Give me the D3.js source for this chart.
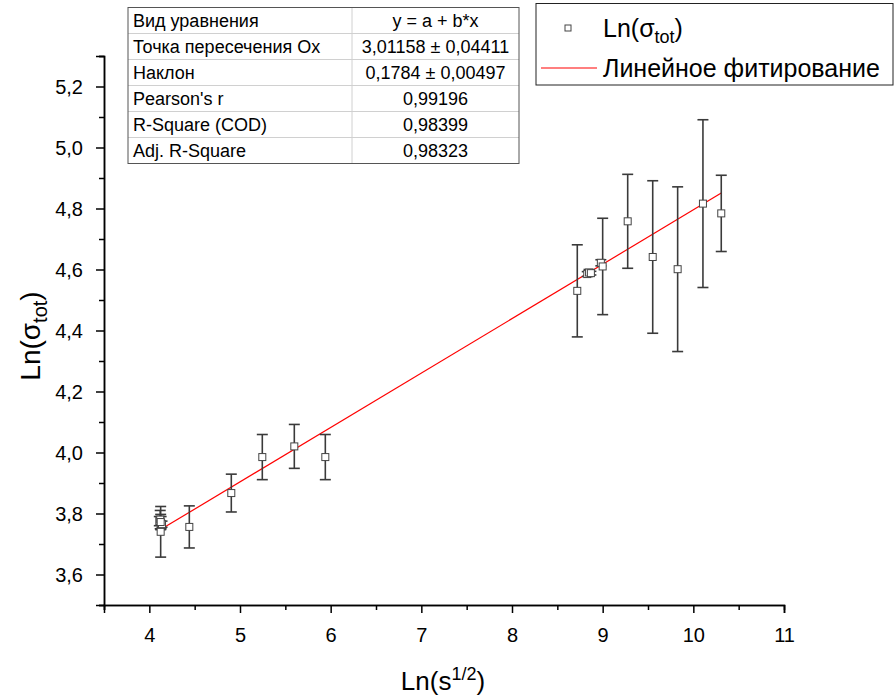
<!DOCTYPE html>
<html>
<head>
<meta charset="utf-8">
<script src="https://cdn.jsdelivr.net/npm/d3@7"></script>
<style>
  body { margin: 0; background: #fff; }
  text { font-family: "Liberation Sans", Arial, sans-serif; }
</style>
</head>
<body>
<div id="chart"></div>
<script>
// data
const xVals = [4.125, 4.11, 4.12, 4.13, 4.14, 4.125, 4.441, 4.904, 5.246, 5.599, 5.941,
               8.720, 8.83, 8.85, 8.87, 8.98, 9.0, 9.276, 9.552, 9.827, 10.106, 10.308];
const yVals = [3.740, 3.775, 3.780, 3.770, 3.765, 3.772, 3.756, 3.867, 3.985, 4.020, 3.985,
               4.530, 4.585, 4.590, 4.588, 4.622, 4.610, 4.758, 4.641, 4.601, 4.816, 4.784];
const yErr  = [0.083, 0.015, 0.030, 0.020, 0.010, 0.025, 0.069, 0.062, 0.074, 0.072, 0.074,
               0.151, 0.008, 0.010, 0.006, 0.010, 0.158, 0.154, 0.250, 0.270, 0.275, 0.125];

const fitA = 3.01158, fitB = 0.1784;

const tableLabels = ["Вид уравнения", "Точка пересечения Ox", "Наклон", "Pearson's r", "R-Square (COD)", "Adj. R-Square"];
const tableValues = ["y = a + b*x", "3,01158 ± 0,04411", "0,1784 ± 0,00497", "0,99196", "0,98399", "0,98323"];

const xTicks = [4, 5, 6, 7, 8, 9, 10, 11];
const yTicks = [3.6, 3.8, 4.0, 4.2, 4.4, 4.6, 4.8, 5.0, 5.2];

const width = 896, height = 696;
const svg = d3.select("#chart").append("svg")
              .attr("width", width)
              .attr("height", height);

const x = d3.scaleLinear().domain([3.5, 11]).range([104, 784]);
const y = d3.scaleLinear().domain([3.5, 5.3]).range([605, 56]);

const ru = d3.formatLocale({decimal: ",", thousands: " ", grouping: [3], currency: ["", ""]});
const fmtY = ru.format(".1f");

// axes
let xAxis = d3.axisBottom(x).tickValues(xTicks).tickSize(8).tickFormat(d3.format("d"));
let xMinor = d3.axisBottom(x).tickValues(d3.range(3.5, 11.01, 1)).tickSize(5).tickFormat("");
let yAxis = d3.axisLeft(y).tickValues(yTicks).tickSize(8).tickFormat(fmtY);
let yMinor = d3.axisLeft(y).tickValues(d3.range(3.5, 5.31, 0.2)).tickSize(5).tickFormat("");

const gx = svg.append("g").attr("transform", `translate(0,${y(3.5)})`).call(xAxis);
svg.append("g").attr("transform", `translate(0,${y(3.5)})`).call(xMinor);
const gy = svg.append("g").attr("transform", `translate(${x(3.5)},0)`).call(yAxis);
svg.append("g").attr("transform", `translate(${x(3.5)},0)`).call(yMinor);

svg.selectAll(".domain").attr("stroke", "#000").attr("stroke-width", 1.5);
svg.selectAll(".tick line").attr("stroke", "#000").attr("stroke-width", 1.5);
gx.selectAll(".tick text").attr("font-size", 20).attr("dy", "1.3em").attr("fill", "#000");
gy.selectAll(".tick text").attr("font-size", 20).attr("dx", "-0.5em").attr("dy", "0.35em").attr("fill", "#000");

// axis titles
const xt = svg.append("text").attr("x", 443).attr("y", 690)
              .attr("text-anchor", "middle").attr("font-size", 26);
xt.append("tspan").text("Ln(s");
xt.append("tspan").attr("font-size", 18).attr("dy", -10).text("1/2");
xt.append("tspan").attr("dy", 10).text(")");

const yt = svg.append("text").attr("transform", "translate(40,336) rotate(-90)")
              .attr("text-anchor", "middle").attr("font-size", 28);
yt.append("tspan").text("Ln(σ");
yt.append("tspan").attr("font-size", 20).attr("dy", 7).text("tot");
yt.append("tspan").attr("dy", -7).text(")");

// fit line
const xMin = d3.min(xVals), xMax = d3.max(xVals);
svg.append("line")
   .attr("x1", x(xMin)).attr("y1", y(fitA + fitB * xMin))
   .attr("x2", x(xMax)).attr("y2", y(fitA + fitB * xMax))
   .attr("stroke", "#ff0000").attr("stroke-width", 1.2);

// error bars
const pts = xVals.map((v, i) => ({x: v, y: yVals[i], e: yErr[i]}));
const eg = svg.append("g").attr("stroke", "#3a3a3a").attr("stroke-width", 1.6);
eg.selectAll(".ev").data(pts).enter().append("line")
  .attr("x1", d => x(d.x)).attr("x2", d => x(d.x))
  .attr("y1", d => y(d.y - d.e)).attr("y2", d => y(d.y + d.e));
eg.selectAll(".et").data(pts).enter().append("line")
  .attr("x1", d => x(d.x) - 5.5).attr("x2", d => x(d.x) + 5.5)
  .attr("y1", d => y(d.y + d.e)).attr("y2", d => y(d.y + d.e));
eg.selectAll(".eb").data(pts).enter().append("line")
  .attr("x1", d => x(d.x) - 5.5).attr("x2", d => x(d.x) + 5.5)
  .attr("y1", d => y(d.y - d.e)).attr("y2", d => y(d.y - d.e));

// markers
svg.selectAll(".pt").data(pts).enter().append("rect")
   .attr("x", d => x(d.x) - 3.5).attr("y", d => y(d.y) - 3.5)
   .attr("width", 7).attr("height", 7)
   .attr("fill", "#fff").attr("stroke", "#444").attr("stroke-width", 1);

// stats table
const tx = 128, ty = 7.5, rowH = 26, col1 = 352, tw = 391;
const tg = svg.append("g");
tg.append("rect").attr("x", tx).attr("y", ty).attr("width", tw).attr("height", rowH * tableLabels.length)
  .attr("fill", "#fff").attr("stroke", "none");
tableLabels.forEach((lab, i) => {
  if (i > 0) {
    tg.append("line").attr("x1", tx).attr("x2", tx + tw)
      .attr("y1", ty + i * rowH).attr("y2", ty + i * rowH)
      .attr("stroke", "#d0d0d0").attr("stroke-width", 1);
  }
  tg.append("text").attr("x", tx + 5).attr("y", ty + i * rowH + 19.5)
    .attr("font-size", 18).text(lab);
  tg.append("text").attr("x", (col1 + tx + tw) / 2).attr("y", ty + i * rowH + 19.5)
    .attr("text-anchor", "middle").attr("font-size", 18).text(tableValues[i]);
});
tg.append("line").attr("x1", col1).attr("x2", col1).attr("y1", ty).attr("y2", ty + rowH * tableLabels.length)
  .attr("stroke", "#d0d0d0").attr("stroke-width", 1);
tg.append("rect").attr("x", tx).attr("y", ty).attr("width", tw).attr("height", rowH * tableLabels.length)
  .attr("fill", "none").attr("stroke", "#555").attr("stroke-width", 1);

// legend
const lg = svg.append("g");
lg.append("rect").attr("x", 536).attr("y", 3.5).attr("width", 357).attr("height", 81.5)
  .attr("fill", "#fff").attr("stroke", "#222").attr("stroke-width", 1);
lg.append("rect").attr("x", 565).attr("y", 25).attr("width", 6).attr("height", 6)
  .attr("fill", "#fff").attr("stroke", "#444");
const l1 = lg.append("text").attr("x", 603).attr("y", 37).attr("font-size", 25);
l1.append("tspan").text("Ln(σ");
l1.append("tspan").attr("font-size", 18).attr("dy", 6).text("tot");
l1.append("tspan").attr("dy", -6).text(")");
lg.append("line").attr("x1", 541).attr("x2", 597).attr("y1", 68).attr("y2", 68)
  .attr("stroke", "#ff0000").attr("stroke-width", 1.2);
lg.append("text").attr("x", 603).attr("y", 77).attr("font-size", 25).text("Линейное фитирование");
</script>
</body>
</html>
